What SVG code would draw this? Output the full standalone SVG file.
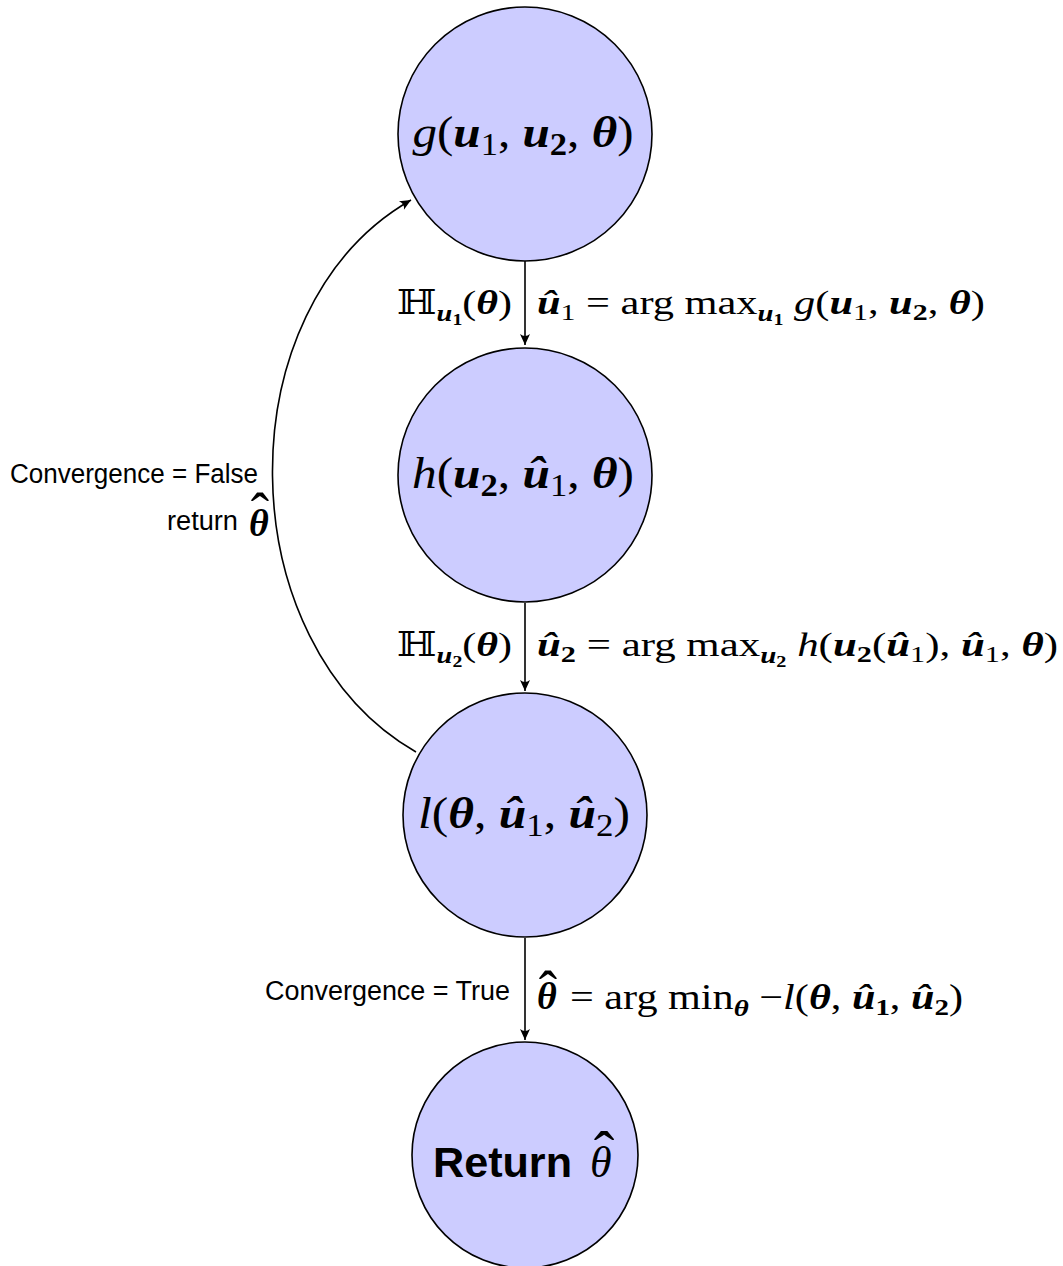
<svg xmlns="http://www.w3.org/2000/svg" width="1063" height="1266" viewBox="0 0 1063 1266">
  <style>
    .node circle { fill: #ccccff; stroke: #000; stroke-width: 1.6; }
    .edge { fill: none; stroke: #000; stroke-width: 1.6; }
    .m { font-family: "Liberation Serif", "DejaVu Serif", serif; fill: #000; }
    .s { font-family: "Liberation Sans", "DejaVu Sans", sans-serif; fill: #000; }
    .i { font-style: italic; }
    .b { font-weight: bold; font-style: italic; }
    .bb { font-family: "DejaVu Serif", serif; }
    .sb { font-weight: bold; }
    .hat { font-family: "Liberation Serif", serif; font-style: normal; font-weight: normal; text-anchor: middle; }
  </style>
  <defs>
    <marker id="arr" viewBox="-12 -6 13 12" refX="0" refY="0" markerWidth="13" markerHeight="12" markerUnits="userSpaceOnUse" orient="auto">
      <path d="M0,0 L-11,-5 Q-7,0 -11,5 Z" fill="#000"/>
    </marker>
  </defs>

  <!-- connectors -->
  <g id="edges">
    <line class="edge" x1="525" y1="261" x2="525" y2="345" marker-end="url(#arr)"/>
    <line class="edge" x1="525" y1="603" x2="525" y2="691" marker-end="url(#arr)"/>
    <line class="edge" x1="525" y1="938" x2="525" y2="1040" marker-end="url(#arr)"/>
    <path class="edge" d="M416,752 C228,644 223,308 411,200" marker-end="url(#arr)"/>

    <!-- edge labels -->
    <text class="m" x="512" y="314" font-size="34" text-anchor="end" textLength="115" lengthAdjust="spacingAndGlyphs"><tspan class="bb">ℍ</tspan><tspan class="b" dy="7" font-size="23">u</tspan><tspan class="sb" dy="4" font-size="16">1</tspan><tspan dy="-11">(</tspan><tspan class="b">θ</tspan>)</text>
    <text class="m" x="537" y="314" font-size="34" textLength="448" lengthAdjust="spacingAndGlyphs"><tspan class="b">û</tspan><tspan dy="6" font-size="24">1</tspan><tspan dy="-6"> = arg max</tspan><tspan class="b" dy="7" font-size="23">u</tspan><tspan class="sb" dy="4" font-size="16">1</tspan><tspan dy="-11"> </tspan><tspan class="i">g</tspan>(<tspan class="b">u</tspan><tspan dy="6" font-size="24">1</tspan><tspan dy="-6">, </tspan><tspan class="b">u</tspan><tspan class="sb" dy="6" font-size="24">2</tspan><tspan dy="-6">, </tspan><tspan class="b">θ</tspan>)</text>

    <text class="m" x="512" y="656" font-size="34" text-anchor="end" textLength="115" lengthAdjust="spacingAndGlyphs"><tspan class="bb">ℍ</tspan><tspan class="b" dy="7" font-size="23">u</tspan><tspan class="sb" dy="4" font-size="16">2</tspan><tspan dy="-11">(</tspan><tspan class="b">θ</tspan>)</text>
    <text class="m" x="537" y="656" font-size="34" textLength="521" lengthAdjust="spacingAndGlyphs"><tspan class="b">û</tspan><tspan class="sb" dy="6" font-size="24">2</tspan><tspan dy="-6"> = arg max</tspan><tspan class="b" dy="7" font-size="23">u</tspan><tspan class="sb" dy="4" font-size="16">2</tspan><tspan dy="-11"> </tspan><tspan class="i">h</tspan>(<tspan class="b">u</tspan><tspan class="sb" dy="6" font-size="24">2</tspan><tspan dy="-6">(</tspan><tspan class="b">û</tspan><tspan dy="6" font-size="24">1</tspan><tspan dy="-6">), </tspan><tspan class="b">û</tspan><tspan dy="6" font-size="24">1</tspan><tspan dy="-6">, </tspan><tspan class="b">θ</tspan>)</text>

    <text class="s" x="510" y="1000" font-size="27" text-anchor="end" textLength="245" lengthAdjust="spacingAndGlyphs">Convergence = True</text>
    <text class="m"><tspan class="b" x="537" y="1009" font-size="38">θ</tspan><tspan class="hat" x="548" y="1009" font-size="55">ˆ</tspan></text>
    <text class="m" x="570" y="1009" font-size="35" textLength="393" lengthAdjust="spacingAndGlyphs">= arg min<tspan class="b" dy="7" font-size="24">θ</tspan><tspan dy="-7"> −</tspan><tspan class="i">l</tspan>(<tspan class="b">θ</tspan>, <tspan class="b">û</tspan><tspan class="sb" dy="6" font-size="24">1</tspan><tspan dy="-6">, </tspan><tspan class="b">û</tspan><tspan class="sb" dy="6" font-size="24">2</tspan><tspan dy="-6">)</tspan></text>

    <text class="s" x="10" y="483" font-size="27" textLength="248" lengthAdjust="spacingAndGlyphs">Convergence = False</text>
    <text class="s"><tspan x="167" y="530" font-size="27" textLength="71" lengthAdjust="spacingAndGlyphs">return</tspan><tspan class="m b" x="249" y="536" font-size="38">θ</tspan><tspan class="m hat" x="260" y="531" font-size="55">ˆ</tspan></text>
  </g>

  <!-- nodes -->
  <g id="node-g" class="node">
    <circle cx="525" cy="134" r="127"/>
    <text class="m" x="523" y="147" font-size="44" text-anchor="middle" textLength="221" lengthAdjust="spacingAndGlyphs"><tspan class="i">g</tspan>(<tspan class="b">u</tspan><tspan dy="8" font-size="31">1</tspan><tspan dy="-8">, </tspan><tspan class="b">u</tspan><tspan class="sb" dy="8" font-size="31">2</tspan><tspan dy="-8">, </tspan><tspan class="b">θ</tspan>)</text>
  </g>
  <g id="node-h" class="node">
    <circle cx="525" cy="475" r="127"/>
    <text class="m" x="523" y="488" font-size="44" text-anchor="middle" textLength="222" lengthAdjust="spacingAndGlyphs"><tspan class="i">h</tspan>(<tspan class="b">u</tspan><tspan class="sb" dy="8" font-size="31">2</tspan><tspan dy="-8">, </tspan><tspan class="b">û</tspan><tspan dy="8" font-size="31">1</tspan><tspan dy="-8">, </tspan><tspan class="b">θ</tspan>)</text>
  </g>
  <g id="node-l" class="node">
    <circle cx="525" cy="815" r="122"/>
    <text class="m" x="524" y="828" font-size="44" text-anchor="middle" textLength="212" lengthAdjust="spacingAndGlyphs"><tspan class="i">l</tspan>(<tspan class="b">θ</tspan>, <tspan class="b">û</tspan><tspan dy="8" font-size="31">1</tspan><tspan dy="-8">, </tspan><tspan class="b">û</tspan><tspan dy="8" font-size="31">2</tspan><tspan dy="-8">)</tspan></text>
  </g>
  <g id="node-return" class="node">
    <circle cx="525" cy="1155" r="113"/>
    <text class="s"><tspan class="sb" x="433" y="1177" font-size="42" textLength="139" lengthAdjust="spacingAndGlyphs">Return</tspan><tspan class="m i" x="590" y="1177" font-size="44">θ</tspan><tspan class="m hat" x="604" y="1174" font-size="62">ˆ</tspan></text>
  </g>
</svg>
